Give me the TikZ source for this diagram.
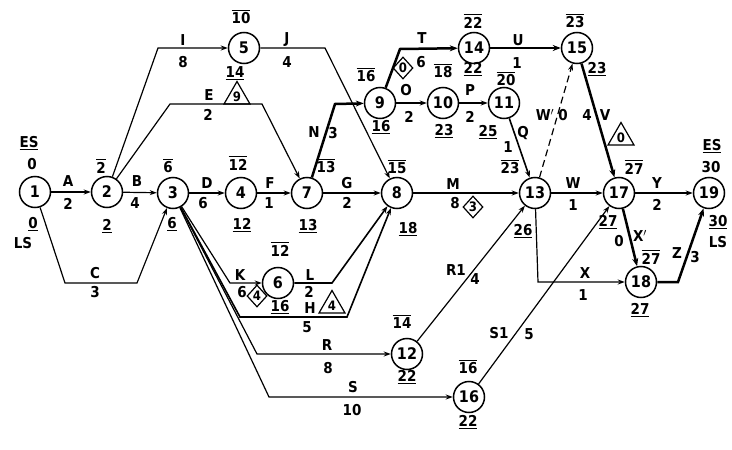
\documentclass[tikz,border=0pt]{standalone}
\usepackage{fontspec}
\setmainfont{DejaVu Sans Condensed}
\usetikzlibrary{arrows.meta,shapes.geometric}
\newcommand\ovl[1]{\vbox{\hrule height 1.3pt\kern1.6pt\hbox{#1}}}
\newcommand\uln[1]{\vtop{\hbox{#1}\kern1.6pt\hrule height 1.3pt}}
\begin{document}
\begin{tikzpicture}[x=1pt,y=-1pt,
 ev/.style={circle,draw,line width=1.5pt,minimum size=31pt,inner sep=0pt,font=\fontsize{16}{16}\selectfont\bfseries},
 lab/.style={inner sep=0pt,font=\fontsize{15}{15}\selectfont\bfseries},
 act/.style={line width=1.2pt,-{Stealth[length=7pt,width=5pt]}},
 mid/.style={line width=1.6pt,-{Stealth[length=7pt,width=5pt]}},
 crit/.style={line width=2.5pt,-{Stealth[length=8pt,width=6pt]}},
 dum/.style={line width=1.2pt,dash pattern=on 7pt off 4pt,-{Stealth[length=7pt,width=5pt]}},
 dia/.style={diamond,draw,line width=1.2pt,minimum width=20pt,minimum height=22pt,inner sep=0pt,font=\fontsize{13}{13}\selectfont\bfseries},
 tri/.style={regular polygon,regular polygon sides=3,draw,line width=1.2pt,minimum size=30pt,inner sep=0pt,font=\fontsize{13}{13}\selectfont\bfseries}]
\useasboundingbox (0,0) rectangle (732,450);
% events
\node[ev] (n1) at (35,192) {1};
\node[ev] (n2) at (107,192) {2};
\node[ev] (n3) at (173,193) {3};
\node[ev] (n4) at (241,193) {4};
\node[ev] (n5) at (244,48) {5};
\node[ev] (n6) at (278,283) {6};
\node[ev] (n7) at (307,193) {7};
\node[ev] (n8) at (397,193) {8};
\node[ev] (n9) at (380,103) {9};
\node[ev] (n10) at (443,103) {10};
\node[ev] (n11) at (504,103) {11};
\node[ev] (n12) at (407,354) {12};
\node[ev] (n13) at (535,193) {13};
\node[ev] (n14) at (474,48) {14};
\node[ev] (n15) at (577,48) {15};
\node[ev] (n16) at (469,397) {16};
\node[ev] (n17) at (619,193) {17};
\node[ev] (n18) at (641,282) {18};
\node[ev] (n19) at (709,193) {19};
% bend points
\coordinate (cC1) at (65,283); \coordinate (cC2) at (137,283);
\coordinate (cI) at (158,48); \coordinate (cJ) at (325,48);
\coordinate (cE1) at (170,104); \coordinate (cE2) at (262,104);
\coordinate (cN) at (335,104); \coordinate (cT) at (400,49);
\coordinate (cK) at (230,283); \coordinate (cL) at (332,283);
\coordinate (cH1) at (240,317); \coordinate (cH2) at (347,317);
\coordinate (cR) at (257,354); \coordinate (cS) at (269,397);
\coordinate (cX) at (538,282); \coordinate (cZ) at (678,282);
% activities
\draw[act] (n1) -- (n2);
\draw[act] (n2) -- (n3);
\draw[act] (n1) -- (cC1) -- (cC2) -- (n3);
\draw[act] (n2) -- (cI) -- (n5);
\draw[act] (n5) -- (cJ) -- (n8);
\draw[act] (n2) -- (cE1) -- (cE2) -- (n7);
\draw[act] (n3) -- (n4);
\draw[act] (n4) -- (n7);
\draw[act] (n7) -- (n8);
\draw[crit] (n7) -- (cN) -- (n9);
\draw[act] (n3) -- (cK) -- (n6);
\draw[mid] (n6) -- (cL) -- (n8);
\draw[mid] (n3) -- (cH1) -- (cH2) -- (n8);
\draw[act] (n3) -- (cR) -- (n12);
\draw[act] (n3) -- (cS) -- (n16);
\draw[crit] (n9) -- (cT) -- (n14);
\draw[act] (n9) -- (n10);
\draw[act] (n10) -- (n11);
\draw[crit] (n14) -- (n15);
\draw[mid] (n11) -- (n13);
\draw[dum] (n13) -- (n15);
\draw[crit] (n15) -- (n17);
\draw[act] (n8) -- (n13);
\draw[act] (n13) -- (n17);
\draw[act] (n17) -- (n19);
\draw[act] (n13) -- (cX) -- (n18);
\draw[crit] (n17) -- (n18);
\draw[crit] (n18) -- (cZ) -- (n19);
\draw[act] (n12) -- (n13);
\draw[act] (n16) -- (n17);
% activity labels
\node[lab] (lA) at (68,181) {A}; \node[lab] (dA) at (68,204) {2};
\node[lab] (lB) at (137,181) {B}; \node[lab] (dB) at (135,203) {4};
\node[lab] (lC) at (95,273) {C}; \node[lab] (dC) at (95,292) {3};
\node[lab] (lI) at (183,40) {I}; \node[lab] (dI) at (183,62) {8};
\node[lab] (lJ) at (287,40) {J}; \node[lab] (dJ) at (287,62) {4};
\node[lab] (lE) at (209,95) {E}; \node[lab] (dE) at (208,115) {2};
\node[tri] (tE) at (237,96.5) {9};
\node[lab] (fE) at (235,73) {\uln{14}};
\node[lab] (lD) at (207,183) {D}; \node[lab] (dD) at (203,203) {6};
\node[lab] (lF) at (270,183) {F}; \node[lab] (dF) at (269,203) {1};
\node[lab] (lG) at (347,183) {G}; \node[lab] (dG) at (347,203) {2};
\node[lab] (lN) at (314,132) {N}; \node[lab] (dN) at (333,133) {3};
\node[lab] (lK) at (240,275) {K}; \node[lab] (dK) at (242,292) {6};
\node[dia] (fK) at (257,296) {4};
\node[lab] (lL) at (310,275) {L}; \node[lab] (dL) at (309,292) {2};
\node[lab] (lH) at (310,308) {H}; \node[lab] (dH) at (307,327) {5};
\node[tri] (tH) at (332,305.5) {4};
\node[lab] (lR) at (327,345) {R}; \node[lab] (dR) at (328,368) {8};
\node[lab] (lS) at (353,387) {S}; \node[lab] (dS) at (352,410) {10};
\node[lab] (lT) at (422,38) {T}; \node[lab] (dT) at (421,62) {6};
\node[dia] (fT) at (403,68) {0};
\node[lab] (lO) at (406,90) {O}; \node[lab] (dO) at (409,117) {2};
\node[lab] (lP) at (470,90) {P}; \node[lab] (dP) at (470,117) {2};
\node[lab] (lU) at (518,40) {U}; \node[lab] (dU) at (517,63) {1};
\node[lab] (lQ) at (523,133) {Q}; \node[lab] (dQ) at (508,147) {1};
\node[lab] (lW2) at (545,115) {W$'$}; \node[lab] (dW2) at (563,115) {0};
\node[lab] (dV) at (587,115) {4}; \node[lab] (lV) at (605,115) {V};
\node[tri] (tV) at (621,137.5) {0};
\node[lab] (lM) at (453,184) {M}; \node[lab] (dM) at (455,203) {8};
\node[dia] (fM) at (473,207) {3};
\node[lab] (lW) at (573,183) {W}; \node[lab] (dW) at (573,205) {1};
\node[lab] (lY) at (657,183) {Y}; \node[lab] (dY) at (657,205) {2};
\node[lab] (lX) at (585,273) {X}; \node[lab] (dX) at (583,295) {1};
\node[lab] (lX2) at (640,236) {X$'$}; \node[lab] (dX2) at (619,241) {0};
\node[lab] (lZ) at (677,253) {Z}; \node[lab] (dZ) at (695,257) {3};
\node[lab,anchor=east] (lR1) at (466,270) {R1}; \node[lab] (dR1) at (475,279) {4};
\node[lab] (lS1) at (499,333) {S1}; \node[lab] (dS1) at (529,334) {5};
% event times
\node[lab] (es1) at (29,143) {\uln{ES}}; \node[lab] (e1) at (32,164) {0};
\node[lab] (l1) at (33,224) {\uln{0}}; \node[lab] (ls1) at (23,243) {LS};
\node[lab] (e2) at (101,166) {\ovl{2}}; \node[lab] (l2) at (107,226) {\uln{2}};
\node[lab] (e3) at (168,166) {\ovl{6}}; \node[lab] (l3) at (172,224) {\uln{6}};
\node[lab] (e4) at (238,163) {\ovl{12}}; \node[lab] (l4) at (242,225) {\uln{12}};
\node[lab] (e7) at (326,166) {\ovl{13}}; \node[lab] (l7) at (308,226) {\uln{13}};
\node[lab] (e8) at (397,167) {\ovl{15}}; \node[lab] (l8) at (408,229) {\uln{18}};
\node[lab] (e5) at (241,17) {\ovl{10}};
\node[lab] (e9) at (366,75) {\ovl{16}}; \node[lab] (l9) at (381,127) {\uln{16}};
\node[lab] (e10) at (443,71) {\ovl{18}}; \node[lab] (l10) at (444,131) {\uln{23}};
\node[lab] (e14) at (473,21) {\ovl{22}}; \node[lab] (l14) at (473,69) {\uln{22}};
\node[lab] (e11) at (506,79) {\ovl{20}}; \node[lab] (l11) at (488,132) {\uln{25}};
\node[lab] (e15) at (575,21) {\ovl{23}}; \node[lab] (l15) at (597,69) {\uln{23}};
\node[lab] (e13) at (510,167) {\ovl{23}}; \node[lab] (l13) at (523,231) {\uln{26}};
\node[lab] (e17) at (634,167) {\ovl{27}}; \node[lab] (l17) at (608,222) {\uln{27}};
\node[lab] (es19) at (712,146) {\uln{ES}}; \node[lab] (e19) at (711,167) {30};
\node[lab] (l19) at (718,222) {\uln{30}}; \node[lab] (ls19) at (718,242) {LS};
\node[lab] (e6) at (280,249) {\ovl{12}}; \node[lab] (l6) at (280,307) {\uln{16}};
\node[lab] (e12) at (402,322) {\ovl{14}}; \node[lab] (l12) at (407,377) {\uln{22}};
\node[lab] (e16) at (468,367) {\ovl{16}}; \node[lab] (l16) at (468,422) {\uln{22}};
\node[lab] (e18) at (651,257) {\ovl{27}}; \node[lab] (l18) at (640,310) {\uln{27}};
\end{tikzpicture}
\end{document}
